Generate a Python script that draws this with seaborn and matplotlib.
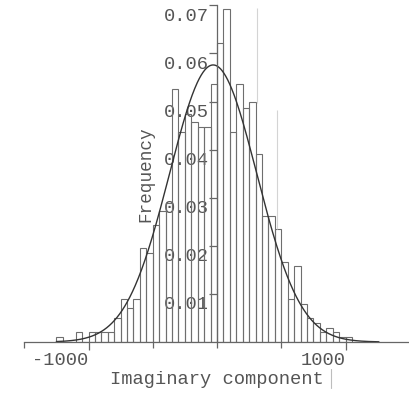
import numpy as np
import pandas as pd
import matplotlib
matplotlib.use("Agg")
import matplotlib.pyplot as plt
import seaborn as sns
from matplotlib.lines import Line2D
from matplotlib.transforms import ScaledTranslation

# ---- data ----
bin_left = [-1250, -1200, -1150, -1100, -1050, -1000, -950, -900, -850, -800,
            -750, -700, -650, -600, -550, -500, -450, -400, -350, -300,
            -250, -200, -150, -100, -50, 0, 50, 100, 150, 200,
            250, 300, 350, 400, 450, 500, 550, 600, 650, 700,
            750, 800, 850, 900, 950, 1000]
freq = [0.0010, 0.0, 0.0, 0.0020, 0.0, 0.0020, 0.0020, 0.0020, 0.0020, 0.0049,
        0.0089, 0.0070, 0.0089, 0.0195, 0.0184, 0.0243, 0.0273, 0.0290, 0.0527, 0.0437,
        0.0475, 0.0458, 0.0448, 0.0448, 0.0536, 0.0622, 0.0692, 0.0437, 0.0536, 0.0487,
        0.0498, 0.0390, 0.0262, 0.0262, 0.0234, 0.0166, 0.0089, 0.0157, 0.0079, 0.0049,
        0.0040, 0.0020, 0.0030, 0.0020, 0.0011, 0.0010]
bin_width = 50

# fitted normal curve parameters
fit_mu = -30
fit_sigma = 340
fit_peak = 0.0576
curve_range = [-1250, 1260]

xtick_values = [-1000, 1000]
xtick_labels = ["-1000", "1000"]
xminor_values = [-1500, -500, 0, 500]
ytick_values = [0.01, 0.02, 0.03, 0.04, 0.05, 0.06, 0.07]
ytick_labels = ["0.01", "0.02", "0.03", "0.04", "0.05", "0.06", "0.07"]

# faint overlay lines present in the reference image
overlay_x = [311, 465]
overlay_bottom = [0.0497, 0.0235]
overlay_top = [0.0695, 0.0482]

x_label = "Imaginary component"
y_label = "Frequency"

# ---- plotting ----
sns.set_theme(style="white")
plt.rcParams["font.family"] = ["Liberation Mono", "DejaVu Sans Mono"]

W, H, DPI = 409, 393, 100
fig = plt.figure(figsize=(W / DPI, H / DPI), dpi=DPI)
ax_left_px, base_px = 24.25, 342
ax = fig.add_axes([ax_left_px / W, (H - base_px) / H, (W - ax_left_px) / W, base_px / H])

df = pd.DataFrame({"center": np.array(bin_left) + bin_width / 2, "freq": freq})
edges = list(bin_left) + [bin_left[-1] + bin_width]

sns.histplot(data=df, x="center", weights="freq", bins=edges, fill=False,
             element="bars", color="#6e6e6e", linewidth=0.8, ax=ax)

xs = np.linspace(curve_range[0], curve_range[1], 500)
ys = fit_peak * np.exp(-0.5 * ((xs - fit_mu) / fit_sigma) ** 2)
sns.lineplot(x=xs, y=ys, color="#333333", linewidth=1.0, ax=ax)

ax.vlines(overlay_x, overlay_bottom, overlay_top, color="#d4d4d4", linewidth=0.8)

ax.set_xlim(-1500, 1494)
ax.set_ylim(0, base_px / 4810)

for s in ["top", "right"]:
    ax.spines[s].set_visible(False)
ax.spines["left"].set_position(("data", 0))
ax.spines["bottom"].set_position(("data", 0))
ax.spines["left"].set_bounds(0, 0.07)
for s in ["left", "bottom"]:
    ax.spines[s].set_color("#666666")
    ax.spines[s].set_linewidth(0.9)
    ax.spines[s].set_zorder(3)

ax.set_xticks(xtick_values, xtick_labels)
ax.set_xticks(xminor_values, minor=True)
ax.set_yticks(ytick_values, ytick_labels)
ax.tick_params(axis="x", which="major", direction="out", length=6, width=0.9,
               color="#666666", pad=1, labelsize=13.5, labelcolor="#555555")
ax.tick_params(axis="x", which="minor", direction="out", length=4, width=0.9,
               color="#666666")
ax.tick_params(axis="y", which="major", direction="out", length=5.5, width=0.9,
               color="#666666", pad=0.5, labelsize=13.5, labelcolor="#555555")
ax.tick_params(bottom=True, left=True, which="both")
for lbl in ax.get_xticklabels():
    lbl.set_ha("right")
shift_down = ScaledTranslation(0, -15.4 / DPI, fig.dpi_scale_trans)
for lbl in ax.get_yticklabels():
    lbl.set_va("baseline")
    lbl.set_transform(lbl.get_transform() + shift_down)

ax.set_xlabel(x_label, fontsize=13.5, color="#555555")
ax.xaxis.set_label_coords(0.5, (base_px - 380) / base_px)
ax.xaxis.label.set_va("center")
ax.set_ylabel(y_label, fontsize=12.7, color="#555555")
ax.yaxis.set_label_coords((146 - ax_left_px) / (W - ax_left_px), (base_px - 174) / base_px)
ax.yaxis.label.set_va("center")
ax.yaxis.label.set_ha("center")

fig.add_artist(Line2D([331 / W, 331 / W], [1 - 369 / H, 1 - 388 / H],
                      transform=fig.transFigure, color="#bdbdbd", linewidth=0.8))

fig.savefig("out.png", dpi=DPI)
